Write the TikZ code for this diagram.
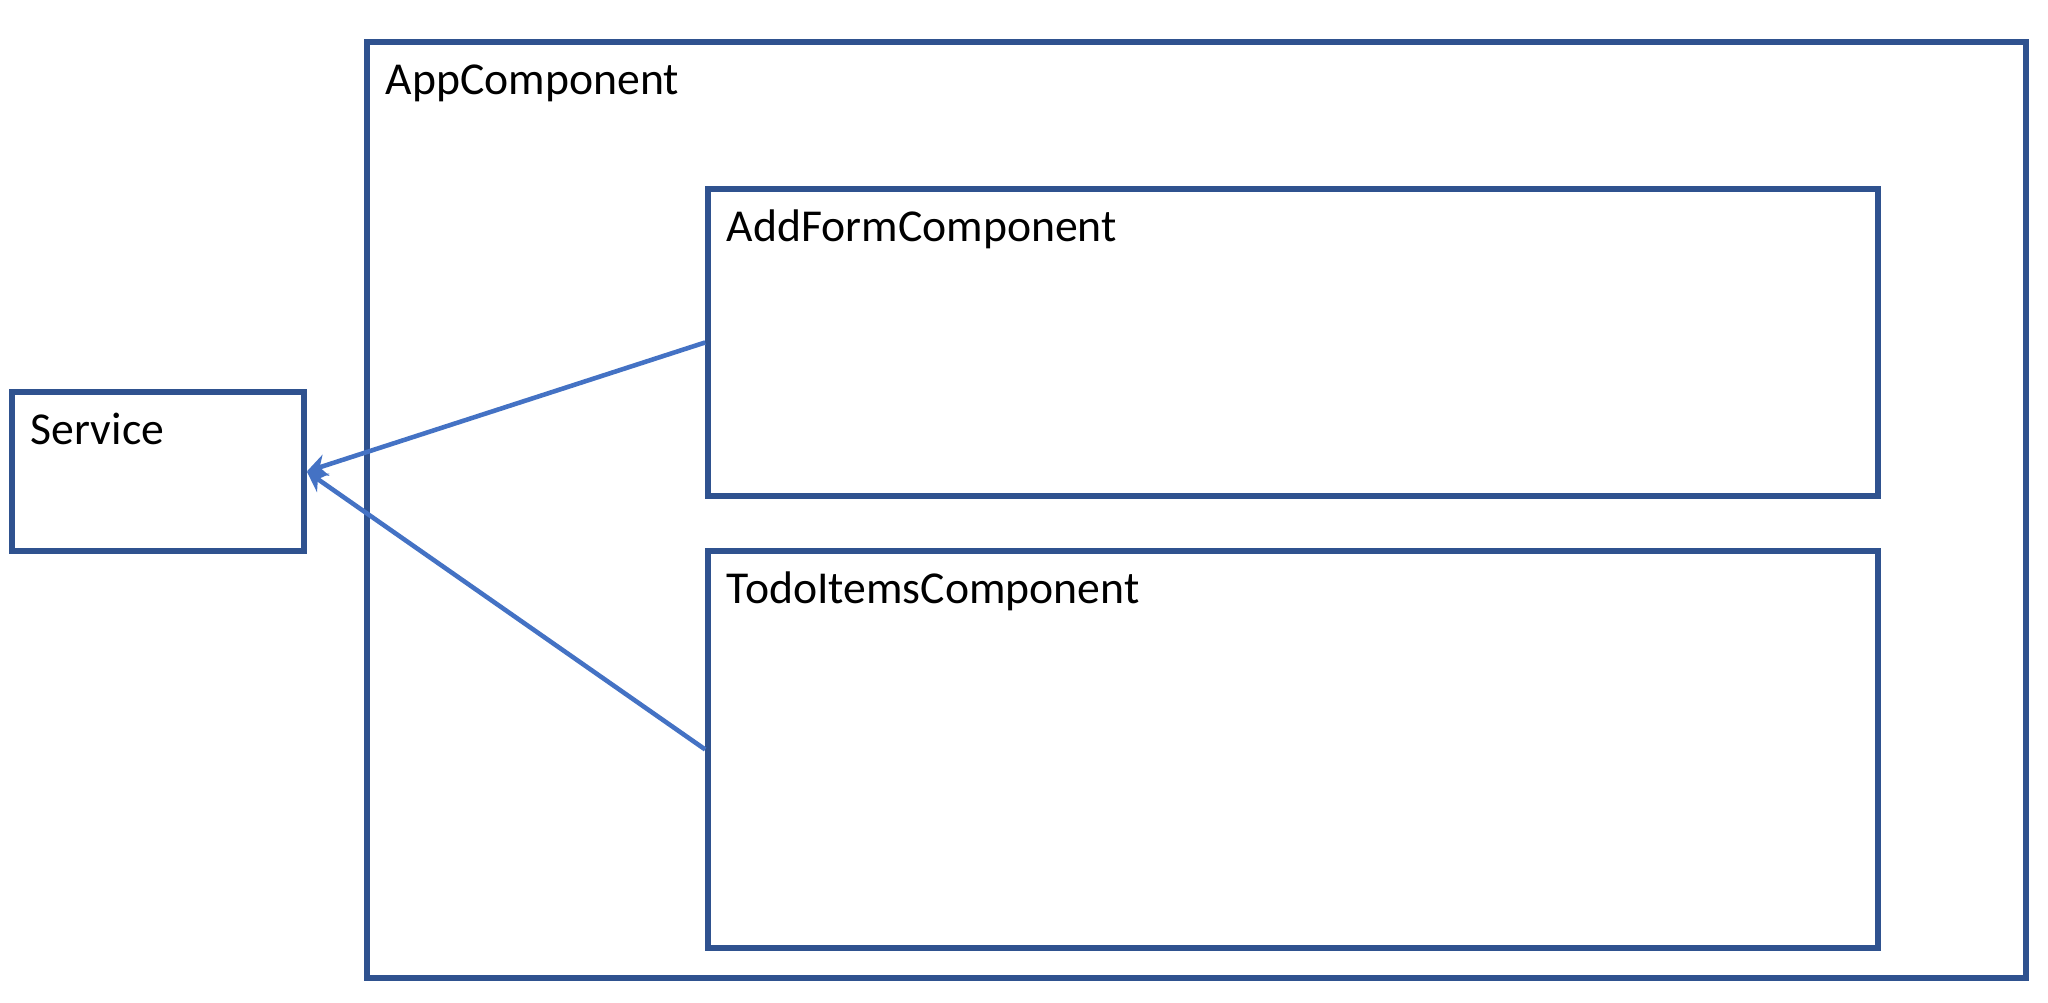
\documentclass[tikz,border=0pt]{standalone}
\usepackage{fontspec}
\setmainfont{Carlito}
\usepackage{xcolor}
\usepackage{tikz}
\usetikzlibrary{arrows.meta,positioning}
\definecolor{boxblue}{HTML}{2F528F}
\definecolor{linkblue}{HTML}{4472C4}

\tikzset{
  comp/.style={draw=boxblue,line width=1.6pt,rectangle,inner sep=0pt},
  lbl/.style={anchor=base west,inner sep=0pt,xshift=0.21cm,yshift=-0.55cm,
    font=\fontsize{13}{15}\selectfont},
  uses/.style={draw=linkblue,line width=1.3pt,-{Stealth[length=2mm,width=2.2mm]}}
}

\begin{document}
\begin{tikzpicture}
	\useasboundingbox (0,0) rectangle (20.48,10.03);
			\node[comp,minimum width=2.92cm,minimum height=1.59cm,
				label={[lbl]north west:Service}] (service) at (1.58,5.315) {};
			\node[comp,minimum width=16.59cm,minimum height=9.36cm,
				label={[lbl]north west:AppComponent}] (app) at (11.965,4.93) {};
			\node[comp,minimum width=11.70cm,minimum height=3.07cm,
				label={[lbl]north west:AddFormComponent}] (addform) at (12.93,6.605) {};
			\node[comp,minimum width=11.70cm,minimum height=3.97cm,
				label={[lbl]north west:TodoItemsComponent}] (todoitems) at (12.93,2.535) {};

			\draw[uses] (addform.west) -- (service.east);
			\draw[uses] (todoitems.west) -- (service.east);
\end{tikzpicture}
\end{document}
